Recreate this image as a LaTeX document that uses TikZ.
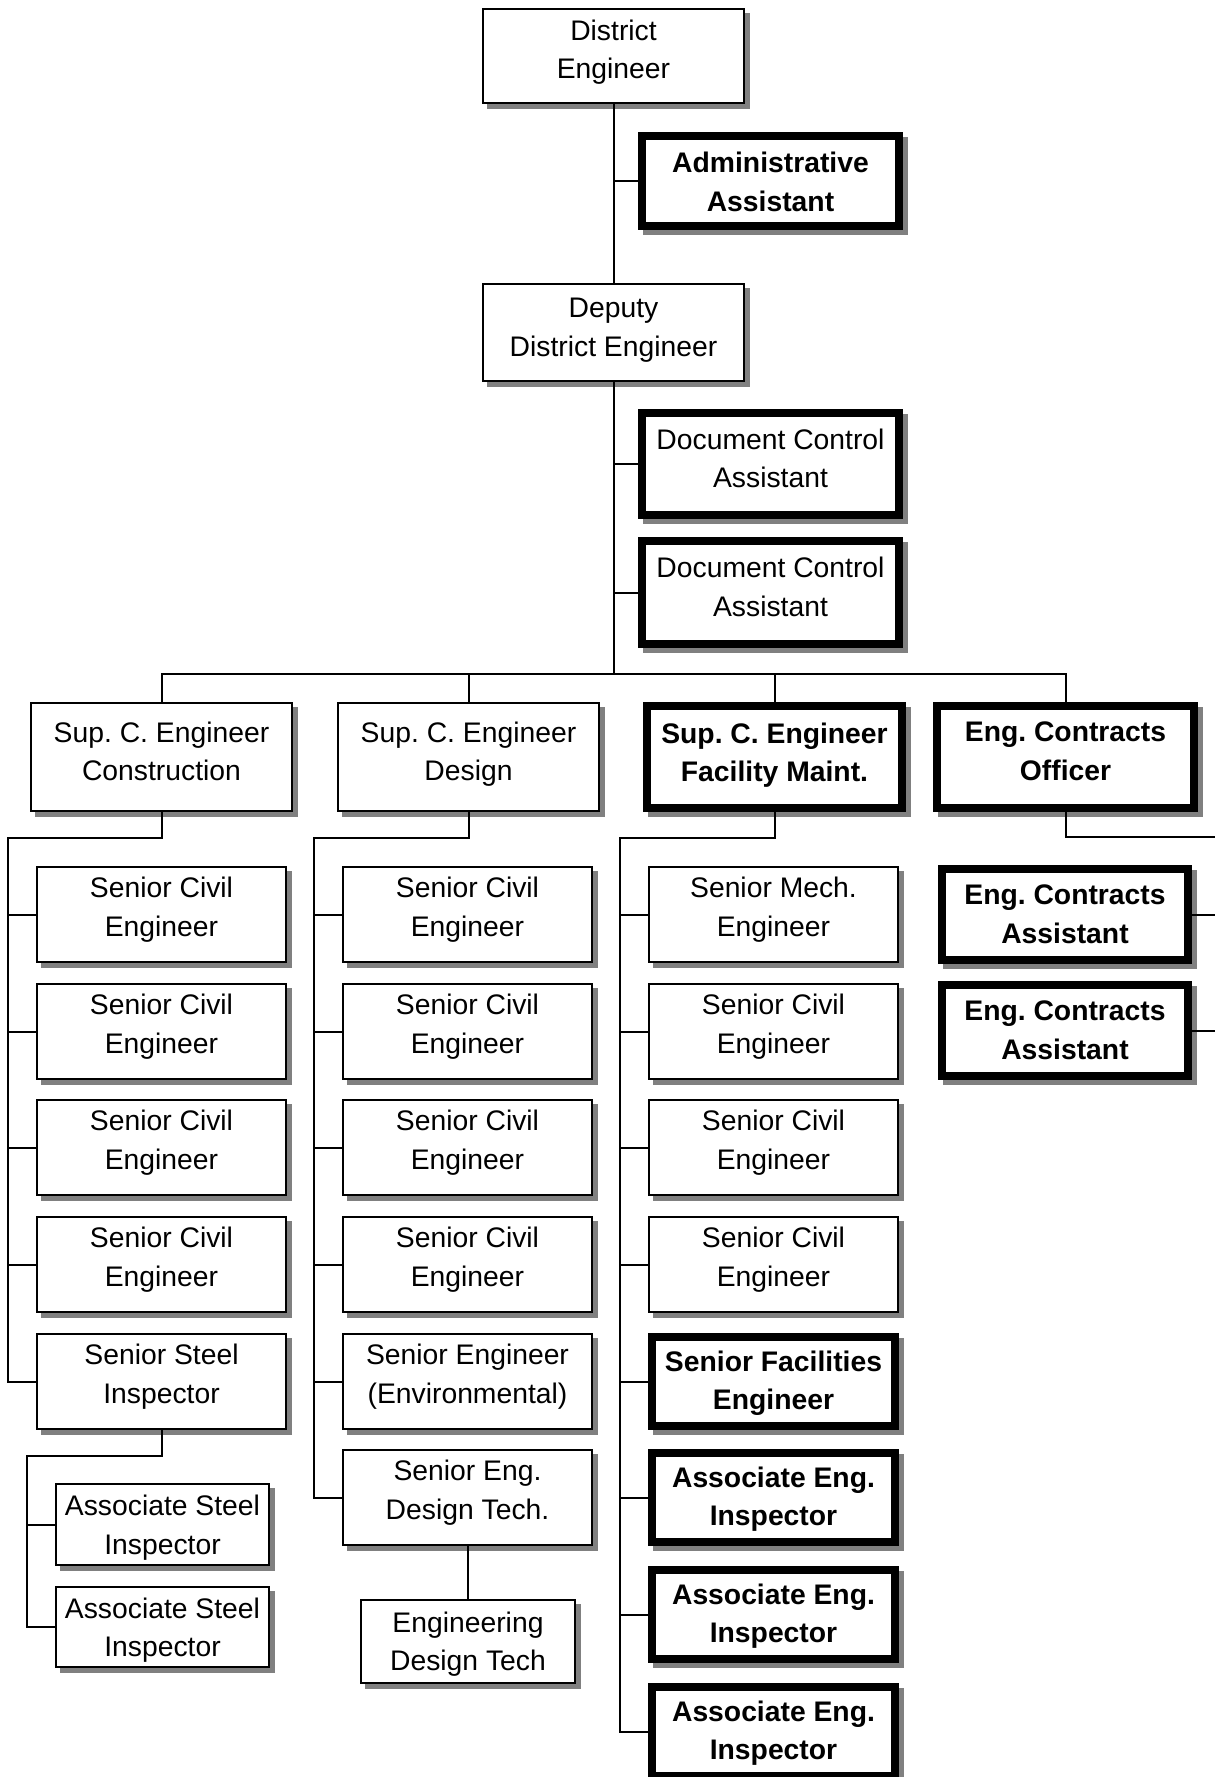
\documentclass[tikz,border=0pt]{standalone}
\usepackage{fontspec}
\setmainfont{Liberation Sans}
\frenchspacing
\definecolor{shadowgray}{HTML}{808080}
\tikzset{
  shadowbox/.style={draw=black, fill=white, inner sep=0pt,
    preaction={draw=shadowgray, fill=shadowgray, transform canvas={shift={(5pt,-5pt)}}}},
  reg/.style={align=center, inner sep=0pt, font=\fontsize{28.3}{38.5}\selectfont\frenchspacing,
    execute at begin node=\strut, execute at end node=\strut},
  bld/.style={reg, font=\fontsize{28.3}{38.5}\selectfont\bfseries\frenchspacing},
  conn/.style={draw=black, line width=2pt},
}
% #1 text shift, #2 name, #3 line width, #4 L, #5 T, #6 R, #7 B, #8 text style, #9 text
\newcommand{\obox}[9][2]{%
  \pgfmathsetmacro\bcx{(#4+#6)/2}%
  \pgfmathsetmacro\bcy{(#5+#7)/2}%
  \pgfmathsetmacro\bw{#6-#4-#3}%
  \pgfmathsetmacro\bh{#7-#5-#3}%
  \pgfmathsetmacro\bsh{#1-2.5}%
  \node[shadowbox, line width=#3pt, minimum width=\bw pt, minimum height=\bh pt] (#2) at (\bcx,\bcy) {};
  \node[#8, yshift=\bsh pt] (#2-t) at (#2.center) {#9};
}
\begin{document}
\begin{tikzpicture}[x=1pt, y=-1pt]
\fill[white] (0,0) rectangle (1215,1777);
\useasboundingbox (0,0) rectangle (1215,1777);

% top levels
\obox[3.3]{de}{2}{482}{8}{745}{104}{reg}{District\\Engineer}
\obox[-4]{admin}{8}{638}{132}{903}{230}{bld}{Administrative\\Assistant}
\obox[2]{dep}{2}{482}{283}{745}{382}{reg}{Deputy\\District Engineer}
\obox[2.6]{doc1}{8}{638}{409}{903}{519}{reg}{Document Control\\Assistant}
\obox[2.6]{doc2}{8}{638}{537}{903}{648}{reg}{Document Control\\Assistant}

% level 2
\obox[2.7]{con}{2}{30}{702}{293}{812}{reg}{Sup. C. Engineer\\Construction}
\obox[2.7]{des}{2}{337}{702}{600}{812}{reg}{Sup. C. Engineer\\Design}
\obox[1.7]{fac}{8}{643}{702}{906}{812}{bld}{Sup. C. Engineer\\Facility Maint.}
\obox[2.7]{off}{8}{933}{702}{1198}{812}{bld}{Eng. Contracts\\Officer}

% column 1
\obox[4.5]{c1r0}{2}{36}{866}{287}{963}{reg}{Senior Civil\\Engineer}
\obox[4.5]{c1r1}{2}{36}{983}{287}{1080}{reg}{Senior Civil\\Engineer}
\obox[4.5]{c1r2}{2}{36}{1099}{287}{1196}{reg}{Senior Civil\\Engineer}
\obox[4.5]{c1r3}{2}{36}{1216}{287}{1313}{reg}{Senior Civil\\Engineer}
\obox[4.5]{c1r4}{2}{36}{1333}{287}{1430}{reg}{Senior Steel\\Inspector}
\obox[-3.5]{asi1}{2}{55}{1483}{270}{1566}{reg}{Associate Steel\\Inspector}
\obox[-3.5]{asi2}{2}{55}{1586}{270}{1668}{reg}{Associate Steel\\Inspector}

% column 2
\obox[4.5]{c2r0}{2}{342}{866}{593}{963}{reg}{Senior Civil\\Engineer}
\obox[4.5]{c2r1}{2}{342}{983}{593}{1080}{reg}{Senior Civil\\Engineer}
\obox[4.5]{c2r2}{2}{342}{1099}{593}{1196}{reg}{Senior Civil\\Engineer}
\obox[4.5]{c2r3}{2}{342}{1216}{593}{1313}{reg}{Senior Civil\\Engineer}
\obox[4.5]{c2r4}{2}{342}{1333}{593}{1430}{reg}{Senior Engineer\\(Environmental)}
\obox[4.5]{c2r5}{2}{342}{1449}{593}{1546}{reg}{Senior Eng.\\Design Tech.}
\obox[-3]{edt}{2}{360}{1599}{576}{1684}{reg}{Engineering\\Design Tech}

% column 3
\obox[4.5]{c3r0}{2}{648}{866}{899}{963}{reg}{Senior Mech.\\Engineer}
\obox[4.5]{c3r1}{2}{648}{983}{899}{1080}{reg}{Senior Civil\\Engineer}
\obox[4.5]{c3r2}{2}{648}{1099}{899}{1196}{reg}{Senior Civil\\Engineer}
\obox[4.5]{c3r3}{2}{648}{1216}{899}{1313}{reg}{Senior Civil\\Engineer}
\obox[-1.8]{c3r4}{8}{648}{1333}{899}{1430}{bld}{Senior Facilities\\Engineer}
\obox[-1.8]{c3r5}{8}{648}{1449}{899}{1546}{bld}{Associate Eng.\\Inspector}
\obox[-1.8]{c3r6}{8}{648}{1566}{899}{1663}{bld}{Associate Eng.\\Inspector}
\obox[-1.8]{c3r7}{8}{648}{1683}{899}{1780}{bld}{Associate Eng.\\Inspector}

% column 4
\obox[-3]{ca1}{8}{938}{865}{1192}{964}{bld}{Eng. Contracts\\Assistant}
\obox[-3]{ca2}{8}{938}{981}{1192}{1080}{bld}{Eng. Contracts\\Assistant}

% connectors: top
\draw[conn] (de.south) -- (dep.north);
\draw[conn] (admin.west) -- (admin.west -| de.south);
\draw[conn] (doc1.west) -- (doc1.west -| dep.south);
\draw[conn] (doc2.west) -- (doc2.west -| dep.south);
\coordinate (busy) at (0,674);
\draw[conn] (dep.south) -- (dep.south |- busy);
\draw[conn] (con.north) |- (busy -| off.north) -- (off.north);
\draw[conn] (des.north) -- (des.north |- busy);
\draw[conn] (fac.north) -- (fac.north |- busy);

% column 1
\coordinate (b1) at (8,838);
\draw[conn] (con.south) |- (b1) |- (c1r4.west);
\foreach \r in {0,1,2,3} \draw[conn] (c1r\r.west) -- (c1r\r.west -| b1);
\coordinate (b1s) at (27,1456);
\draw[conn] (c1r4.south) |- (b1s) |- (asi2.west);
\draw[conn] (asi1.west) -- (asi1.west -| b1s);

% column 2
\coordinate (b2) at (314,838);
\draw[conn] (des.south) |- (b2) |- (c2r5.west);
\foreach \r in {0,1,2,3,4} \draw[conn] (c2r\r.west) -- (c2r\r.west -| b2);
\draw[conn] (c2r5.south) -- (c2r5.south |- edt.north);

% column 3
\coordinate (b3) at (620,838);
\draw[conn] (fac.south) |- (b3) |- (c3r7.west);
\foreach \r in {0,1,2,3,4,5,6} \draw[conn] (c3r\r.west) -- (c3r\r.west -| b3);

% column 4
\coordinate (b4) at (1215,837);
\draw[conn] (off.south) |- (b4);
\draw[conn] (ca1.east) -- (ca1.east -| b4);
\draw[conn] (ca2.east) -- (ca2.east -| b4);
\end{tikzpicture}
\end{document}
